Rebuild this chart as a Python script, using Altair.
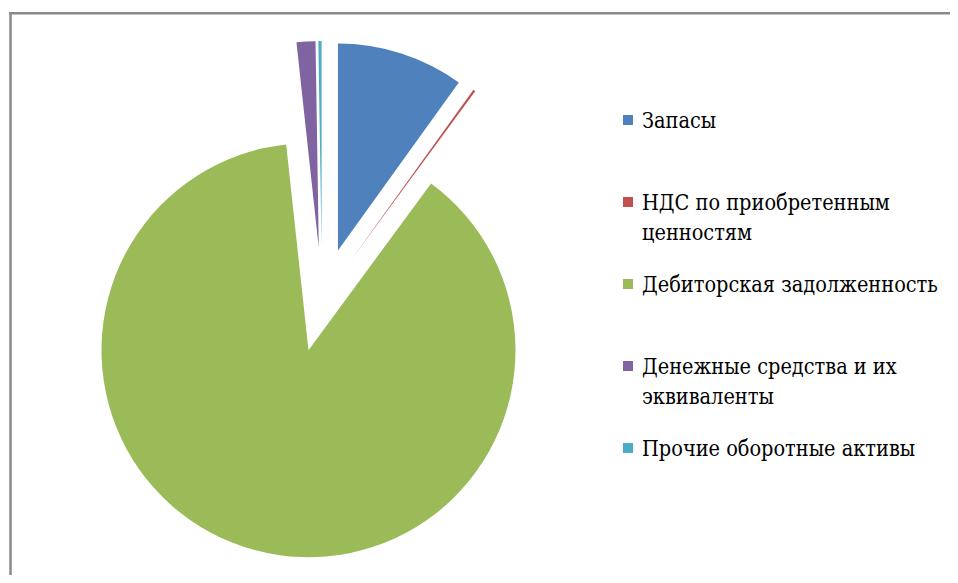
import math
import altair as alt
import pandas as pd

# ---- data ----
categories = [
    "Запасы",
    "НДС по приобретенным ценностям",
    "Дебиторская задолженность",
    "Денежные средства и их эквиваленты",
    "Прочие оборотные активы",
]
legend_labels = [
    "Запасы",
    "НДС по приобретенным\nценностям",
    "Дебиторская задолженность",
    "Денежные средства и их\nэквиваленты",
    "Прочие оборотные активы",
]
shares = [9.92, 0.17, 88.19, 1.47, 0.25]
colors = ["#4F81BD", "#C0504D", "#9BBB59", "#8064A2", "#4BACC6"]

# ---- layout / style ----
W, H = 942, 567
CX, CY = 314, 292      # pie centre (chart coords)
R = 207                # pie radius
EXPLODE = 52           # explosion distance
FONT = "DejaVu Serif Condensed"

df = pd.DataFrame({
    "cat": categories,
    "label": legend_labels,
    "value": shares,
    "order": list(range(len(categories))),
})

color_scale = alt.Scale(domain=categories, range=colors)

base = (
    alt.Chart(df)
    .transform_joinaggregate(total="sum(value)")
    .transform_window(cum="sum(value)", sort=[alt.SortField("order")], frame=[None, 0])
    .transform_calculate(
        t1="datum.cum / datum.total",
        t0="(datum.cum - datum.value) / datum.total",
    )
    .transform_calculate(mid="(datum.t0 + datum.t1) * PI")
    .transform_calculate(
        px=f"{CX} + {EXPLODE} * sin(datum.mid)",
        py=f"{CY} - {EXPLODE} * cos(datum.mid)",
    )
)

pie = base.mark_arc(outerRadius=R, innerRadius=0).encode(
    theta=alt.Theta("t0:Q", scale=alt.Scale(domain=[0, 1], range=[0, 2 * math.pi])),
    theta2="t1:Q",
    x=alt.X("px:Q", scale=None),
    y=alt.Y("py:Q", scale=None),
    color=alt.Color("cat:N", scale=color_scale, legend=None),
)

ly = alt.Y("cat:N", sort=categories,
           scale=alt.Scale(type="point", domain=categories, range=[112, 440], padding=0),
           axis=None)

squares = alt.Chart(df).mark_square(size=100, opacity=1).encode(
    x=alt.value(620),
    y=ly,
    color=alt.Color("cat:N", scale=color_scale, legend=None),
)

texts = alt.Chart(df).mark_text(
    align="left", baseline="alphabetic", dy=8, font=FONT, fontSize=21.5,
    lineBreak="\n", lineHeight=30, color="#000000",
).encode(
    x=alt.value(634),
    y=ly,
    text="label:N",
)

one = pd.DataFrame({"a": [0]})
left_rule = alt.Chart(one).mark_rule(color="#8a8a8a", strokeWidth=2.5).encode(
    x=alt.value(2.5), y=alt.value(4), y2=alt.value(H)
)
top_rule = alt.Chart(one).mark_rule(color="#8a8a8a", strokeWidth=2.5).encode(
    x=alt.value(1.25), x2=alt.value(W), y=alt.value(5.25)
)

chart = (
    alt.layer(pie, squares, texts, left_rule, top_rule)
    .resolve_scale(y="independent")
    .properties(width=W, height=H, padding=0, autosize=alt.AutoSizeParams(type="none"),
                background="#ffffff")
    .configure_view(stroke=None)
)

chart.save("out.html", embed_options={"renderer": "svg", "actions": False})
